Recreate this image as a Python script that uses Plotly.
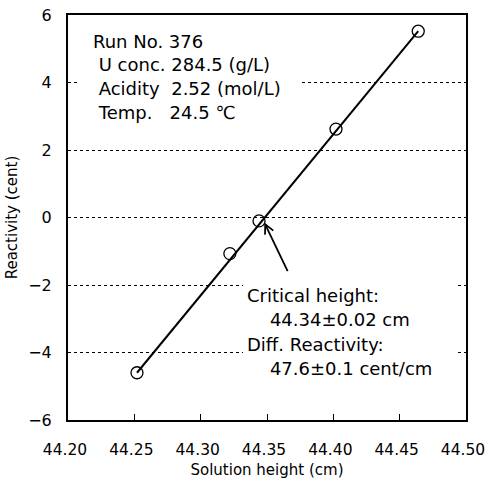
import plotly.graph_objects as go

heights = [44.252, 44.322, 44.344, 44.402, 44.464]
reactivity = [-4.6, -1.07, -0.1, 2.62, 5.52]
fit_x = [44.252, 44.464]
fit_y = [-4.6, 5.52]
x_ticks = [44.20, 44.25, 44.30, 44.35, 44.40, 44.45, 44.50]
x_labels = ["44.20", "44.25", "44.30", "44.35", "44.40", "44.45", "44.50"]
y_ticks = [-6, -4, -2, 0, 2, 4, 6]
y_labels = ["\u22126", "\u22124", "\u22122", "0", "2", "4", "6"]
info_lines = ["Run No. 376",
              "\u00a0U conc. 284.5 (g/L)",
              "\u00a0Acidity\u00a0\u00a02.52 (mol/L)",
              "\u00a0Temp.\u00a0\u00a0\u00a024.5 \u2103"]
result_lines = ["Critical height:",
                "\u00a0\u00a0\u00a0\u00a044.34\u00b10.02 cm",
                "Diff. Reactivity:",
                "\u00a0\u00a0\u00a0\u00a047.6\u00b10.1 cent/cm"]
arrow_target = (44.348, -0.15)

FONT = "DejaVu Sans, Noto Sans CJK JP, sans-serif"
L, R, T, B = 68, 21, 15, 66
PW, PH = 487 - L - R, 486 - T - B


def px_x(p):
    return (p - L) / PW


def px_y(p):
    return (486 - B - p) / PH


fig = go.Figure()
fig.add_trace(go.Scatter(x=fit_x, y=fit_y, mode="lines",
                         line=dict(color="black", width=2), hoverinfo="skip"))
fig.add_trace(go.Scatter(x=heights, y=reactivity, mode="markers",
                         marker=dict(symbol="circle-open", size=12, color="black",
                                     line=dict(width=1.3, color="black"))))

# white masks behind text boxes (gridlines hidden there)
for (x0, x1, y0, y1) in [(80, 302, 28, 124), (243, 455, 282, 382)]:
    fig.add_annotation(xref="paper", yref="paper", x=px_x((x0 + x1) / 2), y=px_y((y0 + y1) / 2),
                       text=" ", showarrow=False, width=x1 - x0, height=y1 - y0,
                       bgcolor="white", borderpad=0, borderwidth=0,
                       xanchor="center", yanchor="middle")

for i, t in enumerate(info_lines):
    fig.add_annotation(xref="paper", yref="paper", x=px_x(91), y=px_y(41 + i * 23.7),
                       text=t, showarrow=False, xanchor="left", yanchor="middle",
                       font=dict(family=FONT, size=18, color="black"))
for i, t in enumerate(result_lines):
    fig.add_annotation(xref="paper", yref="paper", x=px_x(245), y=px_y(295 + i * 24.5),
                       text=t, showarrow=False, xanchor="left", yanchor="middle",
                       font=dict(family=FONT, size=18, color="black"))

# arrow
fig.add_annotation(x=arrow_target[0], y=arrow_target[1], ax=24, ay=50,
                   text="", showarrow=True, arrowhead=5, arrowsize=1.0, arrowwidth=1.8,
                   arrowcolor="black", standoff=0)

fig.update_layout(
    width=487, height=486,
    margin=dict(l=L, r=R, t=T, b=B, autoexpand=False),
    paper_bgcolor="white", plot_bgcolor="white",
    showlegend=False,
    font=dict(family=FONT, size=16, color="black"),
    xaxis=dict(range=[44.20, 44.50], tickvals=x_ticks, ticktext=x_labels,
               showgrid=False, zeroline=False, showline=True, linecolor="black", linewidth=2,
               mirror=True, ticks="inside", ticklen=6, tickcolor="black", tickwidth=1,
               ticklabelstandoff=14, ticklabelshift=-3, ticklabeloverflow="allow",
               automargin=False,
               title=dict(text="Solution height (cm)", font=dict(size=15), standoff=7),
               tickfont=dict(size=15.5)),
    yaxis=dict(range=[-6, 6], tickvals=y_ticks, ticktext=y_labels,
               showgrid=True, gridcolor="black", griddash="dot", gridwidth=1.3,
               zeroline=False, showline=True, linecolor="black", linewidth=2,
               mirror=True, ticks="", ticklabelstandoff=11, automargin=False,
               title=dict(text="Reactivity (cent)", font=dict(size=15), standoff=7),
               tickfont=dict(size=16)),
)

fig.write_html("out.html")
